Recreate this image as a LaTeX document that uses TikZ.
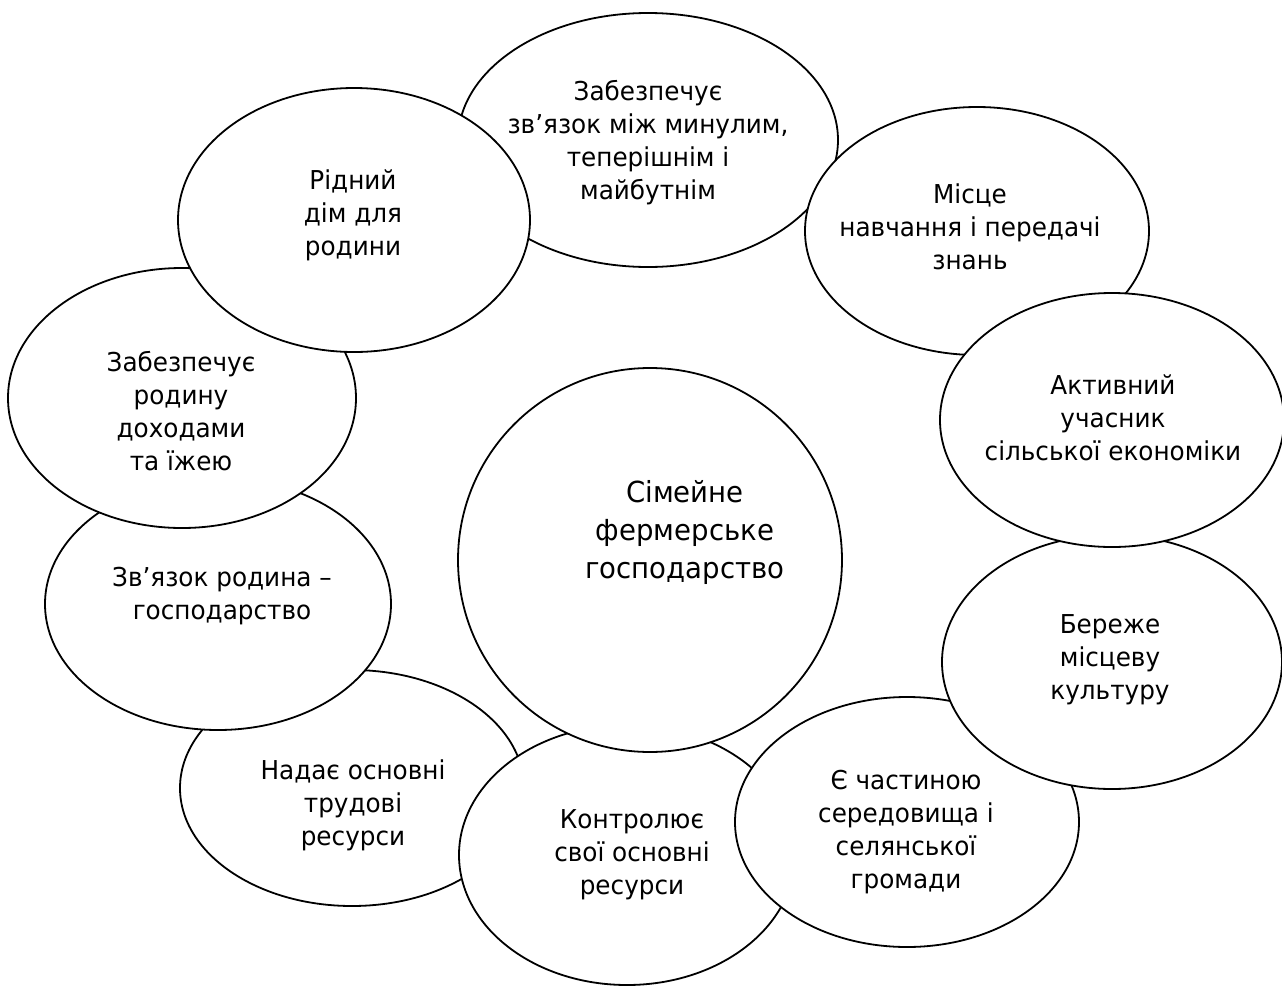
\documentclass[tikz,border=0pt]{standalone}
\usepackage{fontspec}
\setmainfont{DejaVu Sans}[FakeStretch=0.95]
\usepackage{xcolor}
\usetikzlibrary{shapes.geometric}

\begin{document}
\begin{tikzpicture}[x=0.5pt,y=-0.5pt]
\tikzstyle{bubble}=[draw=black,line width=0.9pt,fill=white,ellipse,inner sep=0pt]
\tikzstyle{txt}=[align=center,inner sep=0pt,font=\fontsize{13}{16.5}\selectfont]
\tikzstyle{bigtxt}=[align=center,inner sep=0pt,font=\fontsize{14.5}{19}\selectfont]
\useasboundingbox (0,0) rectangle (1282,986);
\node[bubble,minimum width=172pt,minimum height=118pt] (labour) at (352,788) {};
\node[txt] at (353,805) {Надає основні\\трудові\\ресурси};
\node[bubble,minimum width=168pt,minimum height=130pt] (control) at (627,855) {};
\node[txt] at (632,855) {Контролює\\свої основні\\ресурси};
\node[bubble,minimum width=172pt,minimum height=125pt] (village) at (907,822) {};
\node[txt] at (906,832) {Є частиною\\середовища і\\селянської\\громади};
\node[bubble,minimum width=170pt,minimum height=127pt] (culture) at (1112,662) {};
\node[txt] at (1110,660) {Береже\\місцеву\\культуру};
\node[bubble,minimum width=190pt,minimum height=127pt] (link) at (648,140) {};
\node[txt] at (648,143) {Забезпечує\\зв’язок між минулим,\\теперішнім і\\майбутнім};
\node[bubble,minimum width=172pt,minimum height=124pt] (school) at (977,231) {};
\node[txt] at (970,227) {Місце\\навчання і передачі\\знань};
\node[bubble,minimum width=172pt,minimum height=127pt] (economy) at (1112,420) {};
\node[txt] at (1113,418) {Активний\\учасник\\сільської економіки};
\node[bubble,minimum width=173pt,minimum height=126pt] (family) at (218,604) {};
\node[txt] at (222,596) {Зв’язок родина –\\господарство};
\node[bubble,minimum width=174pt,minimum height=130pt] (income) at (182,398) {};
\node[txt] at (181,411) {Забезпечує\\родину\\доходами\\та їжею};
\node[bubble,minimum width=176pt,minimum height=132pt] (home) at (354,220) {};
\node[txt] at (353,215) {Рідний\\дім для\\родини};
\node[bubble,minimum width=192pt,minimum height=192pt] (core) at (650,560) {};
\node[bigtxt] (coretext) at (685,532) {Сімейне\\фермерське\\господарство};
\end{tikzpicture}
\end{document}
